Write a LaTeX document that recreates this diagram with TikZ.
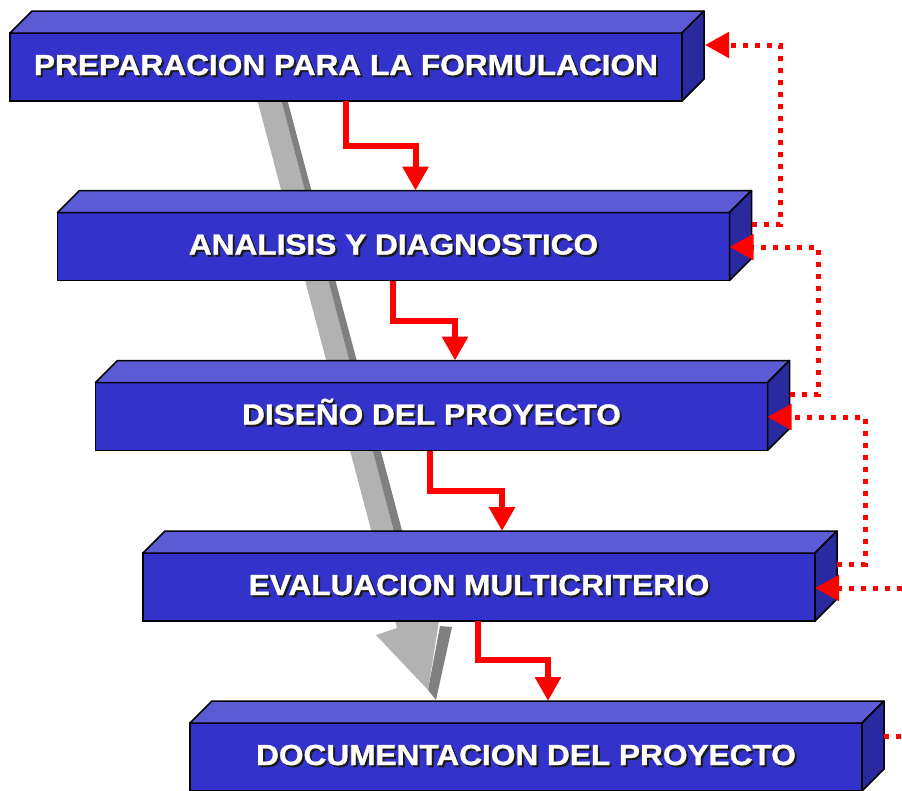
\documentclass[tikz,border=0pt]{standalone}
\usepackage{fontspec}
\setmainfont{Liberation Sans}
\newfontfamily\boxfont[FakeStretch=1.09,FakeBold=1.2]{Liberation Sans}
\usetikzlibrary{arrows.meta,calc}
\definecolor{frontblue}{HTML}{3333CC}
\definecolor{topblue}{HTML}{5B5BD6}
\definecolor{sideblue}{HTML}{2A2AA0}
\definecolor{grayl}{HTML}{B2B2B2}
\definecolor{grayd}{HTML}{808080}
\definecolor{shadowc}{HTML}{1A1A1A}
\definecolor{arrred}{HTML}{FF0000}
\newcommand\shtext[1]{\makebox[0pt][l]{\hspace*{2pt}\raisebox{-2pt}{\color{shadowc}#1}}#1}
\tikzset{
  frontbox/.style={draw=black, line width=1.5pt, fill=frontblue, minimum width=672pt,
    minimum height=68pt, inner sep=0pt, outer sep=0pt, text=white,
    font=\boxfont\bfseries\fontsize{29}{29}\selectfont, text height=21pt, text depth=5pt},
  topface/.style={draw=black, line width=1.5pt, fill=topblue, line join=round},
  sideface/.style={draw=black, line width=1.5pt, fill=sideblue, line join=round},
  flow/.style={draw=arrred, line width=6pt, -{Triangle[length=24pt,width=25pt]}},
  feedback/.style={draw=arrred, line width=5pt, dash pattern=on 5pt off 7pt,
    -{Triangle[length=24pt,width=25pt]}},
  feedstub/.style={draw=arrred, line width=5pt, dash pattern=on 5pt off 7pt},
  graylight/.style={fill=grayl, draw=none},
  graydark/.style={fill=grayd, draw=none}
}
\begin{document}
\begin{tikzpicture}[x=1pt,y=-1pt]
\useasboundingbox[fill=white] (0,0) rectangle (902,790);
% big gray 3D arrow (behind the boxes)
\fill[graylight] (252,80) -- (276,80) -- (419,628) -- (397,628) -- cycle;
\fill[graydark] (276,80) -- (282,80) -- (428,628) -- (419,628) -- cycle;
\fill[graylight] (397,615) -- (397,628) -- (376,635) -- (428,690) -- (440,615) -- cycle;
\fill[graydark] (440,626) -- (452,627) -- (436,700) -- (428,690) -- cycle;
% boxes
\node[frontbox] (b1) at (346,67) {\shtext{PREPARACION PARA LA FORMULACION}};
\node[frontbox] (b2) at (393.5,246.5) {\shtext{ANALISIS Y DIAGNOSTICO}};
\node[frontbox] (b3) at (431.5,416.5) {\shtext{DISEÑO DEL PROYECTO}};
\node[frontbox] (b4) at (479,587) {\shtext{EVALUACION MULTICRITERIO}};
\node[frontbox] (b5) at (526,757) {\shtext{DOCUMENTACION DEL PROYECTO}};
\foreach \b in {b1,b2,b3,b4,b5}{
  \draw[topface] (\b.north west) -- ++(22,-22) -- ++(672,0) -- (\b.north east) -- cycle;
  \draw[sideface] (\b.north east) -- ++(22,-22) -- ++(0,68) -- (\b.south east) -- cycle;
}
% solid red flow arrows
\draw[flow] ($(b1.south west)+(336,0)$) -- ++(0,45) -| ($(b2.north west)+(358,-22)$);
\draw[flow] ($(b2.south west)+(335.5,0)$) -- ++(0,40) -| ($(b3.north west)+(359.5,-22)$);
\draw[flow] ($(b3.south west)+(334.5,0)$) -- ++(0,40) -| ($(b4.north west)+(359,-22)$);
\draw[flow] ($(b4.south west)+(335,0)$) -- ++(0,39) -| ($(b5.north west)+(358,-22)$);
% dotted red feedback arrows
\coordinate (r4) at (902,588);
\coordinate (r5) at (902,736);
\draw[feedback] ($(b2.east)+(22,-22.5)$) -- ++(28.5,0) |- ($(b1.east)+(23,-22)$);
\draw[feedback] ($(b3.east)+(22,-22.5)$) -- ++(28.5,0) |- ($(b2.east)+(0,0.5)$);
\draw[feedback] ($(b4.east)+(22,-23)$) -- ++(28,0) |- ($(b3.east)+(0,0.5)$);
\draw[feedback] (r4) -- ($(b4.east)+(0,1)$);
\draw[feedstub] ($(b5.east)+(22,-21)$) -- (r5);
\end{tikzpicture}
\end{document}
